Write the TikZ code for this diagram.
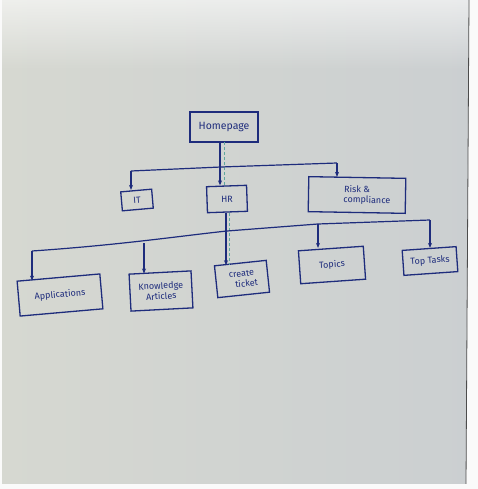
\documentclass[tikz,border=0pt]{standalone}
\usepackage{fontspec}
\setmainfont{Fira Sans}
\usetikzlibrary{arrows.meta,fadings}
\definecolor{ink}{HTML}{1E2C7C}
\definecolor{teal2}{HTML}{5FA7A0}
\definecolor{boardL}{HTML}{D6D8D1}
\definecolor{boardR}{HTML}{CBCFD1}
\tikzset{
  box/.style={draw=ink, line width=1.3pt, minimum width=#1, inner sep=1pt, align=center, text=ink, font=\fontsize{9}{10.5}\selectfont},
  link/.style={draw=ink, line width=1.2pt},
  arr/.style={link, -{Stealth[length=5pt,width=4pt]}},
  guide/.style={draw=teal2, line width=1pt, dashed, dash pattern=on 3pt off 2pt}
}
\begin{document}
\begin{tikzpicture}[x=1pt,y=-1pt]
\useasboundingbox (0,0) rectangle (478,489);
% whiteboard
\shade[left color=boardL, right color=boardR] (0,0) rectangle (478,489);
\fill[white, path fading=south, opacity=0.6] (0,0) rectangle (478,70);
\fill[white!96!gray] (469,0) -- (478,0) -- (478,489) -- (466,489) -- cycle;
\draw[black!70, line width=0.8pt] (469,0) -- (466,484);
\fill[white!96!gray] (0,484) rectangle (478,489);
\fill[white!96!gray] (0,0) rectangle (2,489);

% boxes
\node[box=68pt, minimum height=30pt, font=\fontsize{10.5}{11}\selectfont] (home) at (224,127) {Homepage};
\node[box=31pt, minimum height=19pt, rotate=5] (it) at (137,200) {IT};
\node[box=40pt, minimum height=26pt, rotate=2] (hr) at (227,199) {HR};
\node[box=97pt, minimum height=35pt, rotate=-1] (risk) at (357,195) {Risk \&\\\hspace*{20pt}compliance};
\node[box=83pt, minimum height=35pt, rotate=5] (app) at (60,295) {Applications};
\node[box=62pt, minimum height=37pt, rotate=3] (know) at (161,291) {Knowledge\\Articles};
\node[box=52pt, minimum height=32pt, rotate=6] (ticket) at (242,279) {create\\\hspace*{8pt}ticket};
\node[box=65pt, minimum height=33pt, rotate=4] (topics) at (332,265) {Topics};
\node[box=54pt, minimum height=25pt, rotate=4] (tasks) at (430,261) {Top Tasks};

% bus coordinates
\coordinate (t1) at (131,171);
\coordinate (t2) at (221,167);
\coordinate (t3) at (337,163);
\coordinate (l1) at (32,251);
\coordinate (l2) at (144,243);
\coordinate (l3) at (227,231);
\coordinate (l4) at (318,224);
\coordinate (l5) at (430,220);
\coordinate (s1) at (220,142);
\coordinate (s2) at (226,213);

% teal guide
\draw[guide] ([xshift=4pt]s1) -- ([xshift=4pt]s1 |- hr.north);
\draw[guide] ([xshift=3pt]s2) -- ([xshift=3pt]s2 |- ticket.north west);

% upper level
\draw[link] (t1) -- (t2) -- (t3);
\draw[arr] (s1) -- (s1 |- hr.north);
\draw[arr] (t1) -- (t1 |- it.north);
\draw[arr] (t3) -- (t3 |- risk.north);

% lower level
\draw[link] (l1) .. controls (120,245) and (180,236) .. (l3) -- (l4) -- (l5);
\draw[arr] (s2) -- (s2 |- ticket.north west);
\draw[arr] (l1) -- (l1 |- app.north west);
\draw[arr] (l2) -- (l2 |- know.north west);
\draw[arr] (l4) -- (l4 |- topics.north);
\draw[arr] (l5) -- (l5 |- tasks.north);
\end{tikzpicture}
\end{document}
